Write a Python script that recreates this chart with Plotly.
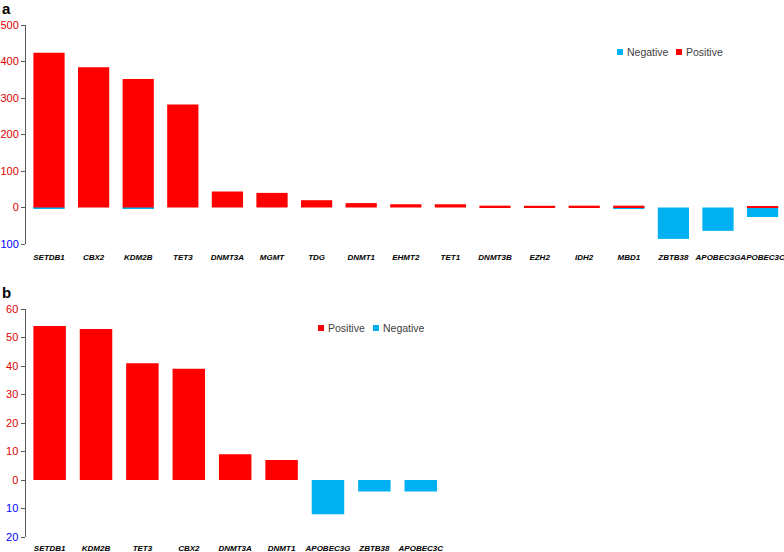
import plotly.graph_objects as go

# Panel a data
a_genes = ["SETDB1", "CBX2", "KDM2B", "TET3", "DNMT3A", "MGMT", "TDG", "DNMT1", "EHMT2",
           "TET1", "DNMT3B", "EZH2", "IDH2", "MBD1", "ZBTB38", "APOBEC3G", "APOBEC3C"]
a_pos = [424, 384, 352, 282, 44, 40, 20, 12, 9, 9, 5, 5, 5, 5, 0, 0, 3]
a_neg = [-2, 0, -2, 0, 0, 0, 0, 0, 0, 0, 0, 0, 0, -3, -86, -64, -26]
a_ticks = [500, 400, 300, 200, 100, 0, -100]
a_ticklabels = ["500", "400", "300", "200", "100", "0", "100"]

# Panel b data
b_genes = ["SETDB1", "KDM2B", "TET3", "CBX2", "DNMT3A", "DNMT1", "APOBEC3G", "ZBTB38", "APOBEC3C"]
b_pos = [54, 53, 41, 39, 9, 7, 0, 0, 0]
b_neg = [0, 0, 0, 0, 0, 0, -12, -4, -4]
b_ticks = [60, 50, 40, 30, 20, 10, 0, -10, -20]
b_ticklabels = ["60", "50", "40", "30", "20", "10", "0", "10", "20"]

RED = "#FF0000"
BLUE = "#00B0F0"

def colored(vals, labels):
    out = []
    for v, t in zip(vals, labels):
        c = "#0000FF" if v < 0 else "#E00000"
        out.append(f"<span style='color:{c}'>{t}</span>")
    return out

fig = go.Figure()
fig.add_trace(go.Bar(x=a_genes, y=a_neg, name="Negative", marker=dict(color=BLUE, line=dict(width=0)),
                     xaxis="x", yaxis="y"))
fig.add_trace(go.Bar(x=a_genes, y=a_pos, name="Positive", marker=dict(color=RED, line=dict(width=0)),
                     xaxis="x", yaxis="y"))
fig.add_trace(go.Bar(x=b_genes, y=b_pos, name="Positive", marker=dict(color=RED, line=dict(width=0)),
                     xaxis="x2", yaxis="y2"))
fig.add_trace(go.Bar(x=b_genes, y=b_neg, name="Negative", marker=dict(color=BLUE, line=dict(width=0)),
                     xaxis="x2", yaxis="y2"))

W, H = 784, 552
xfont = dict(family="Liberation Sans", size=8, color="black", weight="bold", style="italic")
yfont = dict(family="Liberation Sans", size=11)
lfont = dict(family="Liberation Sans", size=10.5, color="#404040")

shapes = []
annotations = [
    dict(text="<b>a</b>", x=0, y=1 + 2 / H, xref="paper", yref="paper", xanchor="left", yanchor="top",
         showarrow=False, font=dict(family="Liberation Sans", size=15, color="black")),
    dict(text="<b>b</b>", x=0, y=1 - 282 / H, xref="paper", yref="paper", xanchor="left",
         yanchor="top", showarrow=False, font=dict(family="Liberation Sans", size=15, color="black")),
]

def legend_item(x, y, color, label):
    shapes.append(dict(type="rect", xref="paper", yref="paper", x0=x / W, x1=(x + 6) / W,
                       y0=1 - (y + 3) / H, y1=1 - (y - 3) / H, fillcolor=color, line=dict(width=0)))
    annotations.append(dict(text=label, x=(x + 8) / W, y=1 - y / H, xref="paper", yref="paper",
                            xanchor="left", yanchor="middle", showarrow=False, font=lfont))

legend_item(617, 52, BLUE, "Negative")
legend_item(676, 52, RED, "Positive")
legend_item(318, 328, RED, "Positive")
legend_item(373, 328, BLUE, "Negative")

fig.update_layout(
    width=W, height=H, margin=dict(l=0, r=0, t=0, b=0, autoexpand=False),
    paper_bgcolor="white", plot_bgcolor="white",
    barmode="relative", bargap=0.3, showlegend=False,
    xaxis=dict(domain=[26 / W, 1], anchor="y", range=[-0.516, 16.48], showline=False,
               showgrid=False, ticks="", tickfont=xfont, tickangle=0, automargin=False,
               ticklabelstandoff=7),
    yaxis=dict(domain=[1 - 244 / H, 1 - 25 / H], anchor="x", range=[-100, 500],
               tickvals=a_ticks, ticktext=colored(a_ticks, a_ticklabels),
               showline=True, linecolor="#595959", linewidth=1, ticks="outside", ticklen=4,
               tickcolor="#595959", showgrid=False, zeroline=False, tickfont=yfont, automargin=False),
    xaxis2=dict(domain=[25.5 / W, 1], anchor="y2", range=[-0.52, 15.83], showline=False,
                showgrid=False, ticks="", tickfont=xfont, tickangle=0, automargin=False,
                ticklabelstandoff=5),
    yaxis2=dict(domain=[1 - 537 / H, 1 - 309 / H], anchor="x2", range=[-20, 60],
                tickvals=b_ticks, ticktext=colored(b_ticks, b_ticklabels),
                showline=True, linecolor="#595959", linewidth=1, ticks="outside", ticklen=4,
                tickcolor="#595959", showgrid=False, zeroline=False, tickfont=yfont, automargin=False),
    annotations=annotations,
    shapes=shapes,
)

fig.write_html("out.html", config={"displayModeBar": False},
               post_script="document.body.style.margin='0';")
